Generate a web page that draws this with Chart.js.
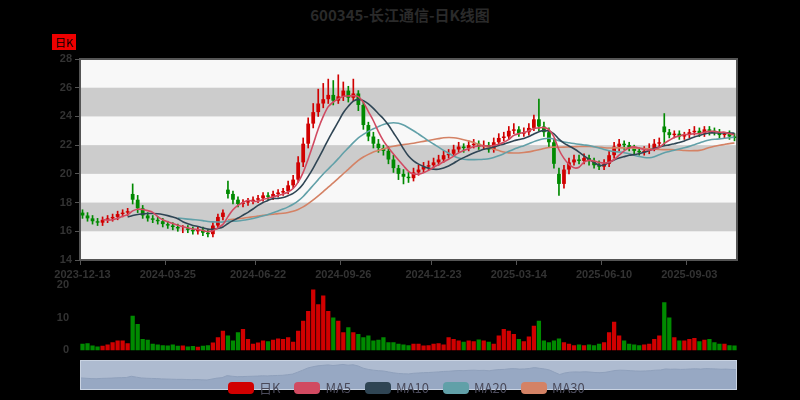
<!DOCTYPE html>
<html>
<head>
<meta charset="utf-8">
<script src="https://cdn.jsdelivr.net/npm/chart.js@4"></script>
<style>
  body { margin: 0; background: #000; font-family: "Noto Sans CJK SC", "Noto Sans", sans-serif; }
  #wrap { position: relative; width: 800px; height: 400px; overflow: hidden; }
  canvas { position: absolute; left: 0; }
  #title { position: absolute; top: 4px; width: 800px; text-align: center; color: #2a2a2a; font-size: 15px; font-weight: bold; }
  #tag { position: absolute; left: 52px; top: 34px; background: #e00; color: #000; font-size: 11px; padding: 0 3px; }
  #slider { position: absolute; left: 80px; top: 360px; width: 657px; height: 30px; background: #aebbd0; border: 1px solid #c9d3e2; box-sizing: border-box; }
  #legend { position: absolute; top: 378px; left: 228px; display: flex; gap: 14px; font-size: 13px; color: #4a4a5a; }
  #legend span i { display: inline-block; width: 26px; height: 12px; border-radius: 4px; margin-right: 5px; vertical-align: -1px; }
</style>
</head>
<body>
<div id="wrap">
  <div id="title">600345-长江通信-日K线图</div>
  <div id="tag">日K</div>
  <canvas id="kChart" style="top:0" width="800" height="280"></canvas>
  <canvas id="volChart" style="top:275px" width="800" height="85"></canvas>
  <div id="slider"><canvas id="navChart" width="655" height="28"></canvas></div>
  <div id="legend"></div>
</div>
<script>
// 数据
const opens = [17.3,17.1,16.9,16.7,16.6, 16.8,16.9,17.0,17.2,17.3, 18.6,18.2,17.6,17.1,16.9, 16.8,16.7,16.5,16.4,16.3, 16.2,16.2,16.1,16.0,16.1, 15.9,15.8,16.4,17.0,18.9, 18.6,18.2,17.9,18.0,18.1, 18.2,18.3,18.5,18.4,18.6, 18.7,18.8,19.2,19.6,20.8, 22.1,23.5,24.3,24.9,25.2, 25.5,25.1,25.4,25.8,25.3, 25.6,24.8,23.4,22.6,22.1, 21.8,21.6,21.0,20.4,20.0, 19.8,19.7,20.1,20.3,20.5, 20.6,20.8,21.0,21.3,21.4, 21.7,21.9,21.8,22.0,22.1, 21.9,22.0,21.7,22.2,22.5, 22.6,23.0,23.1,22.8,22.9, 23.2,23.8,23.3,22.9,22.2, 20.0,19.3,20.3,20.8,21.0, 20.9,21.1,20.9,20.6,20.5, 20.7,21.3,21.9,22.1,22.0, 21.8,21.6,21.5,21.6,21.8, 22.1,23.3,22.9,22.7,22.8, 22.6,22.7,22.9,23.0,22.8, 23.1,23.0,22.9,22.7,22.8,22.6];
const closes = [17.1,16.9,16.7,16.6,16.8, 16.9,17.0,17.2,17.3,17.4, 18.2,17.6,17.1,16.9,16.8, 16.7,16.5,16.4,16.3,16.2, 16.2,16.1,16.0,16.1,15.9, 15.8,16.4,17.0,17.3,18.6, 18.2,17.9,18.0,18.1,18.2, 18.3,18.5,18.4,18.6,18.7, 18.8,19.2,19.6,20.8,22.1, 23.5,24.3,24.9,25.2,25.5, 25.1,25.4,25.8,25.3,25.6, 24.8,23.4,22.6,22.1,21.8, 21.6,21.0,20.4,20.0,19.8, 19.7,20.1,20.3,20.5,20.6, 20.8,21.0,21.3,21.4,21.7, 21.9,21.8,22.0,22.1,21.9, 22.0,21.7,22.2,22.5,22.6, 23.0,23.1,22.8,22.9,23.2, 23.8,23.3,22.9,22.2,20.7, 19.3,20.3,20.8,21.0,20.9, 21.1,20.9,20.6,20.5,20.7, 21.3,21.9,22.1,22.0,21.8, 21.6,21.5,21.6,21.8,22.1, 22.2,22.9,22.7,22.8,22.6, 22.7,22.9,23.0,22.8,23.1, 23.0,22.9,22.7,22.8,22.6,22.5];
const highs = [17.5,17.3,17.1,16.9,17.0, 17.1,17.2,17.4,17.5,17.6, 19.3,18.5,17.8,17.3,17.1, 17.0,16.9,16.7,16.6,16.5, 16.4,16.4,16.3,16.3,16.3, 16.1,16.6,17.2,17.5,19.5, 18.8,18.4,18.2,18.3,18.4, 18.5,18.7,18.7,18.8,18.9, 19.0,19.5,19.9,21.2,22.5, 23.9,24.9,25.9,26.3,26.6, 26.5,26.9,26.4,26.1,26.6, 25.8,25.0,23.6,22.9,22.4, 22.0,21.9,21.3,20.6,20.3, 20.1,20.4,20.6,20.8,20.9, 21.1,21.3,21.6,21.7,22.0, 22.2,22.1,22.3,22.4,22.3, 22.3,22.2,22.5,22.8,22.9, 23.3,23.5,23.3,23.2,23.5, 24.1,25.2,23.6,23.2,22.4, 20.4,20.6,21.1,21.3,21.3, 21.4,21.3,21.1,20.9,21.0, 21.6,22.2,22.4,22.3,22.2, 22.0,21.8,21.9,22.1,22.4, 22.5,24.2,23.1,23.0,23.0, 22.9,23.1,23.3,23.2,23.3, 23.3,23.2,23.1,22.9,23.0,22.8];
const lows = [16.9,16.7,16.5,16.4,16.4, 16.6,16.7,16.8,17.0,17.1, 17.9,17.3,16.9,16.7,16.6, 16.5,16.3,16.2,16.1,16.0, 15.9,15.9,15.8,15.8,15.7, 15.6,15.6,16.2,16.8,18.3, 17.9,17.7,17.7,17.8,17.9, 18.0,18.1,18.2,18.2,18.4, 18.5,18.6,19.0,19.4,20.5, 21.8,23.2,24.0,24.6,24.9, 24.8,24.9,25.1,25.0,25.1, 24.4,23.1,22.3,21.8,21.5, 21.3,20.7,20.1,19.6,19.3, 19.4,19.5,19.9,20.1,20.3, 20.4,20.6,20.8,21.1,21.2, 21.5,21.5,21.6,21.8,21.7, 21.7,21.5,21.5,22.0,22.3, 22.4,22.8,22.6,22.6,22.7, 23.0,23.0,22.6,21.9,20.4, 18.5,19.0,20.0,20.6,20.7, 20.7,20.6,20.4,20.3,20.3, 20.5,21.1,21.6,21.7,21.6, 21.4,21.3,21.3,21.4,21.6, 21.9,22.0,22.5,22.5,22.4, 22.4,22.5,22.7,22.6,22.6, 22.7,22.7,22.5,22.5,22.4,22.3];
const volumes = [2.0,2.2,1.5,1.2,1.4, 1.8,2.5,3.0,3.0,2.2, 10.5,8.0,3.5,3.2,2.0, 1.8,1.6,1.5,1.8,1.4, 1.5,1.2,1.3,1.1,1.4, 1.6,2.4,4.0,6.0,4.5, 3.0,5.5,6.5,3.5,2.0, 2.4,3.0,2.8,3.2,3.6, 3.5,4.0,2.6,6.0,9.0, 12.0,18.5,14.0,16.7,12.0, 10.0,9.0,5.5,7.0,5.5, 5.0,4.0,4.5,3.0,3.2, 4.0,2.5,2.5,2.0,1.8, 1.6,2.0,2.0,1.5,1.6, 2.0,2.2,1.8,4.0,3.5, 3.0,2.6,3.0,2.8,3.3, 3.0,2.6,2.0,4.5,6.5, 6.0,5.0,3.5,2.8,4.2, 7.5,9.0,3.0,2.5,3.0, 3.6,2.5,2.0,1.6,1.8, 1.6,1.8,1.6,2.0,2.5, 5.5,8.7,4.5,3.0,2.0, 1.8,1.6,1.8,2.0,3.5, 4.5,14.6,10.0,4.0,3.0, 3.0,3.5,3.8,2.8,3.2, 3.5,2.5,2.0,2.0,1.6,1.5];
const tickIdx = [0, 17, 35, 52, 70, 87, 104, 121];
const tickLabels = ['2023-12-13', '2024-03-25', '2024-06-22', '2024-09-26', '2024-12-23', '2025-03-14', '2025-06-10', '2025-09-03'];
const priceTicks = [14, 16, 18, 20, 22, 24, 26, 28];
const maPeriods = [5, 10, 20, 30];
const maColors = ['#d14a61', '#2f4554', '#61a0a8', '#d48265'];

const UP = '#d10000', DOWN = '#008a00';
const idx = closes.map((_, i) => i);
const colors = closes.map((c, i) => c >= opens[i] ? UP : DOWN);

function movingAvg(n) {
    return closes.map((_, i) => {
        if (i < n - 1) return null;
        let s = 0;
        for (let k = i - n + 1; k <= i; k++) s += closes[k];
        return s / n;
    });
}

// 背景条纹
const stripes = {
    id: 'stripes',
    beforeDatasetsDraw(chart) {
        const { ctx, chartArea: a, scales: { y } } = chart;
        ctx.save();
        ctx.fillStyle = '#f8f8f8';
        ctx.fillRect(a.left, a.top, a.width, a.height);
        ctx.fillStyle = '#cccccc';
        for (let v = 16; v < 28; v += 4) {
            const y1 = y.getPixelForValue(v + 2), y2 = y.getPixelForValue(v);
            ctx.fillRect(a.left, y1, a.width, y2 - y1);
        }
        ctx.strokeStyle = '#555';
        ctx.lineWidth = 2;
        ctx.strokeRect(a.left, a.top, a.width, a.height);
        ctx.restore();
    }
};

const xAxis = {
    type: 'category',
    offset: true,
    grid: {
        drawOnChartArea: false, tickLength: 5,
        color: c => tickIdx.includes(c.index) ? '#555' : 'transparent'
    },
    border: { color: '#555' },
    ticks: {
        autoSkip: false, maxRotation: 0, color: '#333', font: { size: 11, weight: 'bold' },
        callback: (v, i) => { const k = tickIdx.indexOf(i); return k >= 0 ? tickLabels[k] : ''; }
    },
    afterFit: s => { s.height = 20; }
};

new Chart(document.getElementById('kChart'), {
    type: 'bar',
    data: {
        labels: idx,
        datasets: [
            { label: 'wick', data: idx.map(i => [lows[i], highs[i]]), backgroundColor: colors, barThickness: 1, grouped: false, order: 3 },
            { label: '日K', data: idx.map(i => [opens[i], closes[i]]), backgroundColor: colors, barPercentage: 0.75, categoryPercentage: 1, grouped: false, order: 2 },
            ...maPeriods.map((n, k) => ({
                type: 'line', label: 'MA' + n, data: movingAvg(n), borderColor: maColors[k],
                borderWidth: 1.6, pointRadius: 0, tension: 0.3, order: 1
            }))
        ]
    },
    options: {
        responsive: false, animation: false,
        layout: { padding: { top: 59, right: 63, bottom: 0, left: 0 } },
        plugins: { legend: { display: false }, tooltip: { enabled: false } },
        scales: {
            x: xAxis,
            y: {
                min: 14, max: 28, afterFit: s => { s.width = 80; },
                afterBuildTicks: s => { s.ticks = priceTicks.map(v => ({ value: v })); },
                grid: { drawOnChartArea: false, tickLength: 5, color: '#555' },
                border: { color: '#555' },
                ticks: { color: '#333', font: { size: 11, weight: 'bold' } }
            }
        }
    },
    plugins: [stripes]
});

new Chart(document.getElementById('volChart'), {
    type: 'bar',
    data: {
        labels: idx,
        datasets: [{ data: volumes, backgroundColor: colors, barPercentage: 0.85, categoryPercentage: 1 }]
    },
    options: {
        responsive: false, animation: false,
        layout: { padding: { top: 4, right: 63, bottom: 2, left: 0 } },
        plugins: { legend: { display: false }, tooltip: { enabled: false } },
        scales: {
            x: { display: false, offset: true },
            y: {
                min: 0, max: 20, afterFit: s => { s.width = 80; },
                grid: { display: false }, border: { display: false },
                ticks: { stepSize: 10, color: '#333', font: { size: 11, weight: 'bold' } }
            }
        }
    }
});

new Chart(document.getElementById('navChart'), {
    type: 'line',
    data: {
        labels: idx,
        datasets: [{ data: closes, borderColor: '#8fa0bb', backgroundColor: '#97a8c3', fill: true, borderWidth: 1, pointRadius: 0 }]
    },
    options: {
        responsive: false, animation: false,
        plugins: { legend: { display: false }, tooltip: { enabled: false } },
        scales: { x: { display: false }, y: { display: false, min: 10, max: 28 } }
    }
});

// 图例
const legendItems = [['日K', UP]].concat(maPeriods.map((n, k) => ['MA' + n, maColors[k]]));
document.getElementById('legend').innerHTML = legendItems
    .map(([t, c]) => `<span><i style="background:${c}"></i>${t}</span>`).join('');
</script>
</body>
</html>
